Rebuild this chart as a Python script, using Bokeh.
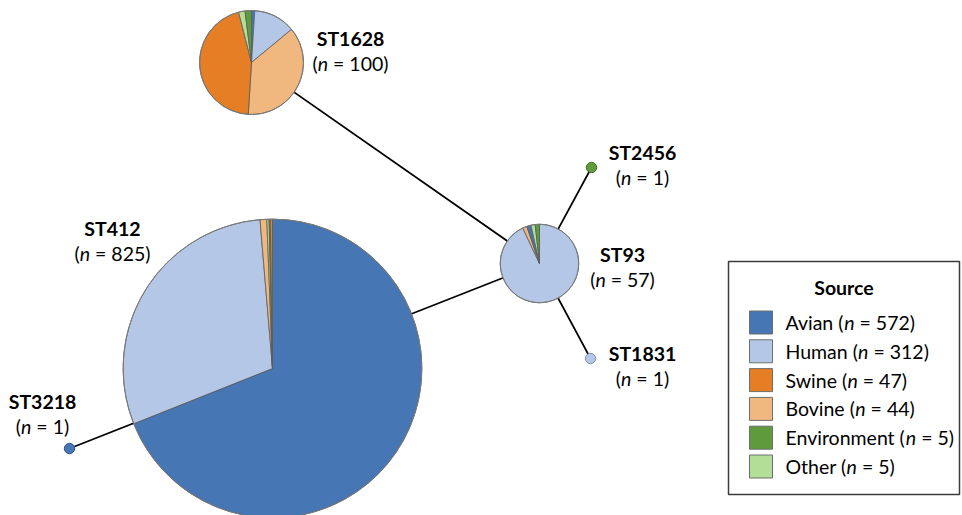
import glob
import math
import os
import struct

from bokeh.core.properties import value
from bokeh.embed import file_html
from bokeh.models import Range1d
from bokeh.plotting import figure
from bokeh.resources import INLINE

# ---------------- data ----------------
sources = ["Avian", "Human", "Swine", "Bovine", "Environment", "Other"]
st_names = ["ST412", "ST1628", "ST93", "ST2456", "ST1831", "ST3218"]
# counts per source, in the order of `sources`
st412 = [569, 245, 2, 6, 1, 2]
st1628 = [1, 13, 45, 37, 2, 2]
st93 = [1, 53, 0, 1, 1, 1]
st2456 = [0, 0, 0, 0, 1, 0]
st1831 = [0, 1, 0, 0, 0, 0]
st3218 = [1, 0, 0, 0, 0, 0]
edges = [("ST1628", "ST93"), ("ST412", "ST93"), ("ST93", "ST2456"),
         ("ST93", "ST1831"), ("ST412", "ST3218")]
legend_title = "Source"

counts = dict(zip(st_names, [st412, st1628, st93, st2456, st1831, st3218]))

# ---------------- layout / style ----------------
W, H = 962, 515
node_pos = {"ST412": (272, 368), "ST1628": (251, 62), "ST93": (539, 263),
            "ST2456": (591, 167), "ST1831": (590, 358), "ST3218": (69, 448)}
label_pos = {"ST412": (112, 228), "ST1628": (350, 38), "ST93": (622, 254),
             "ST2456": (642, 152), "ST1831": (642, 353), "ST3218": (42, 401)}
slice_order = {
    "ST412": ["Avian", "Human", "Bovine", "Other", "Environment", "Swine"],
    "ST1628": ["Avian", "Human", "Bovine", "Swine", "Other", "Environment"],
    "ST93": ["Human", "Bovine", "Avian", "Other", "Environment", "Swine"],
}
colors = {"Avian": "#4676B4", "Human": "#B4C7E7", "Swine": "#E57E24",
          "Bovine": "#F0B87E", "Environment": "#5E9B3C", "Other": "#B2DE97"}
dot_lines = {"Avian": "#2F5487", "Human": "#7F8FA8", "Environment": "#3E6E25"}
FONT = "Lato"
FS = 19.5
LINE_GAP = 24.5
radius_k = 5.2


# ---------------- font metrics (for placing the italic n) ----------------
def _load_width_fn(patterns):
    path = None
    for pat in patterns:
        hits = glob.glob(pat, recursive=True)
        if hits:
            path = sorted(hits)[0]
            break
    if path is None:
        return None
    try:
        data = open(path, "rb").read()
        num_tables = struct.unpack(">H", data[4:6])[0]
        tables = {}
        for i in range(num_tables):
            tag, _cs, off, ln = struct.unpack(">4sIII", data[12 + 16 * i:28 + 16 * i])
            tables[tag.decode("latin1")] = (off, ln)
        off = tables["head"][0]
        upem = struct.unpack(">H", data[off + 18:off + 20])[0]
        off = tables["hhea"][0]
        num_hm = struct.unpack(">H", data[off + 34:off + 36])[0]
        off = tables["hmtx"][0]
        adv = [struct.unpack(">H", data[off + 4 * i:off + 4 * i + 2])[0] for i in range(num_hm)]
        coff = tables["cmap"][0]
        nsub = struct.unpack(">H", data[coff + 2:coff + 4])[0]
        sub = None
        for i in range(nsub):
            pid, eid, so = struct.unpack(">HHI", data[coff + 4 + 8 * i:coff + 12 + 8 * i])
            fmt = struct.unpack(">H", data[coff + so:coff + so + 2])[0]
            if fmt == 4:
                sub = coff + so
                break
        if sub is None:
            return None
        segx2 = struct.unpack(">H", data[sub + 6:sub + 8])[0]
        segs = segx2 // 2
        ends = struct.unpack(">%dH" % segs, data[sub + 14:sub + 14 + segx2])
        starts = struct.unpack(">%dH" % segs, data[sub + 16 + segx2:sub + 16 + 2 * segx2])
        deltas = struct.unpack(">%dh" % segs, data[sub + 16 + 2 * segx2:sub + 16 + 3 * segx2])
        rpos = sub + 16 + 3 * segx2
        roffs = struct.unpack(">%dH" % segs, data[rpos:rpos + segx2])

        def glyph(c):
            for i in range(segs):
                if ends[i] >= c:
                    if starts[i] > c:
                        return 0
                    if roffs[i] == 0:
                        return (c + deltas[i]) & 0xFFFF
                    addr = rpos + 2 * i + roffs[i] + 2 * (c - starts[i])
                    g = struct.unpack(">H", data[addr:addr + 2])[0]
                    return (g + deltas[i]) & 0xFFFF if g else 0
            return 0

        def width(s, size):
            tot = 0
            for ch in s:
                g = glyph(ord(ch))
                tot += adv[min(g, num_hm - 1)]
            return tot * size / upem
        return width
    except Exception:
        return None


def _fallback(s, size):
    table = {" ": 0.23, "(": 0.30, ")": 0.30, "=": 0.58, "n": 0.55}
    return sum(table.get(ch, 0.58 if ch.isdigit() else 0.53) for ch in s) * size


roots = ["/usr/share/fonts/**/", "/usr/local/share/fonts/**/", os.path.expanduser("~/.fonts/**/")]
w_reg = _load_width_fn([r + "Lato-Regular.ttf" for r in roots]) or _fallback
w_it = _load_width_fn([r + "Lato-Italic.ttf" for r in roots]) or w_reg


def Y(y):
    return H - y


# ---------------- figure ----------------
p = figure(width=W, height=H, output_backend="svg", toolbar_location=None,
           x_range=Range1d(0, W), y_range=Range1d(0, H), min_border=0)
p.axis.visible = False
p.grid.visible = False
p.outline_line_color = None
p.background_fill_color = "white"
p.border_fill_color = "white"

# edges (centre to centre, drawn below the pies)
ex, ey = [], []
for a, b in edges:
    ex.append([node_pos[a][0], node_pos[b][0]])
    ey.append([Y(node_pos[a][1]), Y(node_pos[b][1])])
p.multi_line(ex, ey, line_color="black", line_width=1.7)

# pies
for st in st_names:
    cx, cy = node_pos[st]
    vals = dict(zip(sources, counts[st]))
    n = sum(counts[st])
    r = radius_k * math.sqrt(n)
    present = [s for s in slice_order.get(st, sources) if vals[s] > 0]
    if len(present) == 1:
        s = present[0]
        p.circle(x=[cx], y=[Y(cy)], radius=r, fill_color=colors[s],
                 line_color=dot_lines.get(s, "#666666"), line_width=1)
        continue
    acc = 0.0
    xs, ys, sa, ea, fc = [], [], [], [], []
    for s in present:
        t1 = acc / n * 2 * math.pi
        acc += vals[s]
        t2 = acc / n * 2 * math.pi
        xs.append(cx)
        ys.append(Y(cy))
        sa.append(math.pi / 2 - t2)
        ea.append(math.pi / 2 - t1)
        fc.append(colors[s])
    p.wedge(x=xs, y=ys, radius=r, start_angle=sa, end_angle=ea,
            fill_color=fc, line_color="#5a5a5a", line_width=0.8)
    p.circle(x=[cx], y=[Y(cy)], radius=r, fill_color=None,
             line_color="#7a7a7a", line_width=1)


def n_text(x_left, y, prefix, suffix, size, align_center=False):
    """Draw prefix + italic n + ' = ' + suffix, left anchored at x_left (or centred)."""
    w1 = w_reg(prefix, size)
    w2 = w_it("n", size)
    wsp = w_reg(" ", size)
    rest = "= " + suffix
    w3 = w_reg(rest, size)
    total = w1 + w2 + wsp + w3
    x0 = x_left - total / 2 if align_center else x_left
    common = dict(text_font=value(FONT), text_font_size="%.1fpx" % size,
                  text_baseline="middle", text_align="left", text_color="black")
    p.text(x=[x0], y=[Y(y)], text=[prefix], **common)
    p.text(x=[x0 + w1], y=[Y(y)], text=["n"], text_font_style="italic", **common)
    p.text(x=[x0 + w1 + w2 + wsp], y=[Y(y)], text=[rest], **common)


# node labels
for st in st_names:
    lx, ly = label_pos[st]
    p.text(x=[lx], y=[Y(ly)], text=[st], text_font=value(FONT),
           text_font_size="%.1fpx" % FS, text_font_style="bold",
           text_baseline="middle", text_align="center", text_color="black")
    n_text(lx, ly + LINE_GAP, "(", "%d)" % sum(counts[st]), FS, align_center=True)

# legend (drawn by hand)
totals = [sum(counts[st][i] for st in st_names) for i in range(len(sources))]
box_l, box_r, box_t, box_b = 728, 959, 261, 494
p.quad(left=[box_l], right=[box_r], top=[Y(box_t)], bottom=[Y(box_b)],
       fill_color="white", line_color="#3c3c3c", line_width=1.5)
p.text(x=[(box_l + box_r) / 2], y=[Y(287)], text=[legend_title], text_font=value(FONT),
       text_font_size="%.1fpx" % FS, text_font_style="bold", text_baseline="middle",
       text_align="center", text_color="black")
row0, pitch = 322, 28.8
for i, (s, tot) in enumerate(zip(sources, totals)):
    yc = row0 + i * pitch
    p.rect(x=[760.5], y=[Y(yc)], width=23, height=23, fill_color=colors[s],
           line_color="#6e6e6e", line_width=1)
    n_text(785, yc, s + " (", "%d)" % tot, FS)

open("out.html", "w").write(file_html(p, INLINE))
